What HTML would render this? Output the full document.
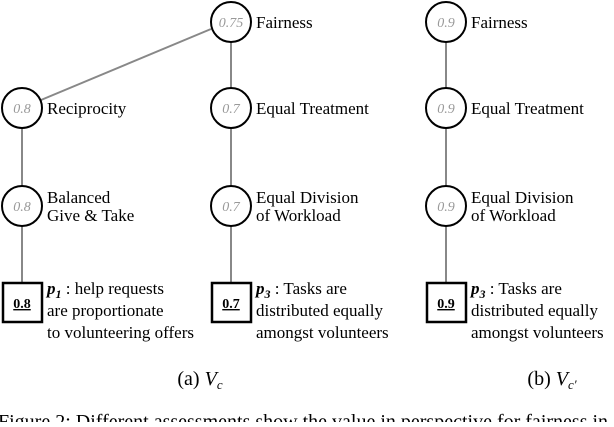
<!DOCTYPE html>
<html><head><style>
body{margin:0;background:#fff;width:614px;height:422px;overflow:hidden}
</style></head><body>
<svg width="614" height="422" xmlns="http://www.w3.org/2000/svg" font-family="Liberation Serif, serif">
<g stroke="#888" stroke-width="2">
<line x1="211" y1="29" x2="41" y2="100"/>
<line x1="231" y1="42" x2="231" y2="88"/>
<line x1="231" y1="128" x2="231" y2="186"/>
<line x1="231" y1="226" x2="231" y2="283"/>
<line x1="22" y1="128" x2="22" y2="186"/>
<line x1="22" y1="226" x2="22" y2="283"/>
<line x1="446" y1="42" x2="446" y2="88"/>
<line x1="446" y1="128" x2="446" y2="186"/>
<line x1="446" y1="226" x2="446" y2="283"/>
</g>
<g fill="#fff" stroke="#000" stroke-width="2">
<circle cx="231" cy="22" r="20"/><circle cx="22" cy="108" r="20"/><circle cx="22" cy="206" r="20"/>
<circle cx="231" cy="108" r="20"/><circle cx="231" cy="206" r="20"/>
<circle cx="446" cy="22" r="20"/><circle cx="446" cy="108" r="20"/><circle cx="446" cy="206" r="20"/>
<rect x="3" y="283" width="39" height="39" stroke-width="2.5"/>
<rect x="212" y="283" width="39" height="39" stroke-width="2.5"/>
<rect x="427" y="283" width="39" height="39" stroke-width="2.5"/>
</g>
<g fill="#999" font-style="italic" font-size="14" text-anchor="middle">
<text x="231" y="27">0.75</text><text x="22" y="113">0.8</text><text x="22" y="211">0.8</text>
<text x="231" y="113">0.7</text><text x="231" y="211">0.7</text>
<text x="446" y="27">0.9</text><text x="446" y="113">0.9</text><text x="446" y="211">0.9</text>
</g>
<g font-size="17" fill="#000">
<text x="256" y="28">Fairness</text>
<text x="47" y="114">Reciprocity</text>
<text x="47" y="203">Balanced</text><text x="47" y="221">Give &amp; Take</text>
<text x="256" y="114">Equal Treatment</text>
<text x="256" y="203">Equal Division</text><text x="256" y="221">of Workload</text>
<text x="471" y="28">Fairness</text>
<text x="471" y="114">Equal Treatment</text>
<text x="471" y="203">Equal Division</text><text x="471" y="221">of Workload</text>
</g>
<g font-size="14" font-weight="bold" text-anchor="middle" text-decoration="underline">
<text x="22" y="308">0.8</text><text x="231" y="308">0.7</text><text x="446" y="308">0.9</text>
</g>
<g font-size="17">
<text x="47" y="294"><tspan font-weight="bold" font-style="italic">p</tspan><tspan font-weight="bold" font-style="italic" font-size="12" dy="4">1</tspan><tspan dy="-4"> : help requests</tspan></text>
<text x="47" y="316">are proportionate</text>
<text x="47" y="338">to volunteering offers</text>
<text x="256" y="294"><tspan font-weight="bold" font-style="italic">p</tspan><tspan font-weight="bold" font-style="italic" font-size="12" dy="4">3</tspan><tspan dy="-4"> : Tasks are</tspan></text>
<text x="256" y="316">distributed equally</text>
<text x="256" y="338">amongst volunteers</text>
<text x="471" y="294"><tspan font-weight="bold" font-style="italic">p</tspan><tspan font-weight="bold" font-style="italic" font-size="12" dy="4">3</tspan><tspan dy="-4"> : Tasks are</tspan></text>
<text x="471" y="316">distributed equally</text>
<text x="471" y="338">amongst volunteers</text>
</g>
<g font-size="20">
<text x="200" y="385" text-anchor="middle">(a) <tspan font-style="italic">V</tspan><tspan font-style="italic" font-size="13" dy="4">c</tspan></text>
<text x="552" y="385" text-anchor="middle">(b) <tspan font-style="italic">V</tspan><tspan font-style="italic" font-size="13" dy="4">c′</tspan></text>
<text x="-2" y="428">Figure 2: Different assessments show the value in perspective for fairness in</text>
</g>
</svg>
</body></html>
